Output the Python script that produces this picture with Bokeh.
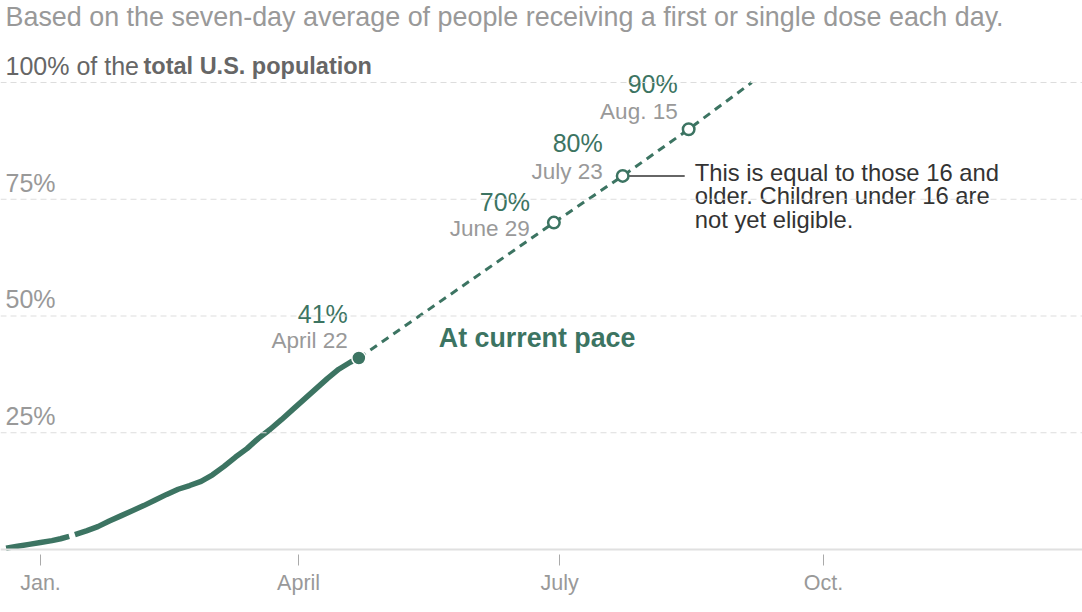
from datetime import timedelta
import numpy as np
import pandas as pd
from bokeh.plotting import figure
from bokeh.models import Range1d, FixedTicker, CustomJSTickFormatter, Span, Grid
from bokeh.core.properties import value
from bokeh.embed import file_html
from bokeh.resources import INLINE

# ---------------- data ----------------
dates = ["2020-12-20", "2020-12-24", "2020-12-28", "2021-01-01", "2021-01-05",
         "2021-01-08", "2021-01-11", "2021-01-12", "2021-01-13", "2021-01-17",
         "2021-01-21", "2021-01-25", "2021-01-29", "2021-02-02", "2021-02-06",
         "2021-02-10", "2021-02-14", "2021-02-18", "2021-02-22", "2021-02-26",
         "2021-03-02", "2021-03-06", "2021-03-10", "2021-03-14", "2021-03-18",
         "2021-03-22", "2021-03-26", "2021-03-30", "2021-04-03", "2021-04-07",
         "2021-04-11", "2021-04-15", "2021-04-19", "2021-04-22"]
share = [0.3, 0.7, 1.1, 1.5, 1.9,
         2.3, 2.8, np.nan, 3.2, 4.0,
         4.9, 6.1, 7.2, 8.3, 9.4,
         10.6, 11.8, 12.9, 13.7, 14.6,
         16.0, 17.8, 19.8, 21.6, 23.8,
         25.7, 27.8, 30.0, 32.2, 34.4,
         36.6, 38.6, 40.1, 41.0]

proj_dates = ["2021-04-22", "2021-06-29", "2021-07-23", "2021-08-15", "2021-09-06"]
proj_share = [41, 70, 80, 90, 100]

milestone_dates = ["2021-06-29", "2021-07-23", "2021-08-15"]
milestone_share = [70, 80, 90]
current_date = "2021-04-22"
current_share = 41

label_dates = ["2021-04-22", "2021-06-29", "2021-07-23", "2021-08-15"]
label_share = [41, 70, 80, 90]
pct_labels = ["41%", "70%", "80%", "90%"]
date_labels = ["April 22", "June 29", "July 23", "Aug. 15"]

y_ticks = [25, 50, 75, 100]
y_tick_labels = ["25%", "50%", "75%", "100% of the"]
x_tick_dates = ["2021-01-01", "2021-04-01", "2021-07-01", "2021-10-01"]
x_tick_labels = ["Jan.", "April", "July", "Oct."]

subtitle = "Based on the seven-day average of people receiving a first or single dose each day."
y_title_bold = "total U.S. population"
pace_label = "At current pace"
note_lines = ["This is equal to those 16 and", "older. Children under 16 are", "not yet eligible."]

# ---------------- layout ----------------
W, H = 1082, 612
BOTTOM = 58
PX_DAY = 2.868
PX_PCT = 4.67
JAN1_PX = 40
ZERO_PX = 5
LEFT_PAD = 5
BASE_FIX = 0.35   # baseline correction, fraction of font size

GREEN = "#3c7462"
FONT = "Liberation Sans"

d = pd.to_datetime(dates)
pd_ = pd.to_datetime(proj_dates)
md = pd.to_datetime(milestone_dates)
cd = pd.to_datetime([current_date])
ld = pd.to_datetime(label_dates)
jan1 = pd.Timestamp("2021-01-01")

frame_h = H - BOTTOM
x_range = Range1d(start=jan1 - timedelta(days=JAN1_PX / PX_DAY),
                  end=jan1 + timedelta(days=(W - JAN1_PX) / PX_DAY))
y_range = Range1d(start=-ZERO_PX / PX_PCT, end=(frame_h - ZERO_PX) / PX_PCT)

p = figure(width=W, height=H, x_axis_type="datetime", x_range=x_range, y_range=y_range,
           output_backend="svg", toolbar_location=None, y_axis_location=None,
           min_border_left=0, min_border_right=0, min_border_top=0, min_border_bottom=BOTTOM)
p.outline_line_color = None
for r in p.center:
    if isinstance(r, Grid):
        r.visible = False
p.background_fill_color = "white"
p.border_fill_color = "white"


def label(x, y, text, fs, color, align="left", bold=False, xo=0, yo=0):
    p.text(x=x, y=y, text=text, text_font=value(FONT), text_font_size=f"{fs}px",
           text_font_style="bold" if bold else "normal", text_color=color,
           text_align=align, text_baseline="alphabetic",
           x_offset=xo, y_offset=yo - BASE_FIX * fs)


# gridlines and baseline
for t in y_ticks:
    p.add_layout(Span(location=t, dimension="width", line_color="#dddddd",
                      line_width=1, line_dash="6 4"))
p.add_layout(Span(location=0, dimension="width", line_color="#e0e0e0", line_width=2))

# x axis
tick_ms = [float(pd.Timestamp(t).value // 10**6) for t in x_tick_dates]
ax = p.xaxis[0]
ax.ticker = FixedTicker(ticks=tick_ms)
ax.formatter = CustomJSTickFormatter(args=dict(names=x_tick_labels, tick_pos=tick_ms), code="""
let best = 0;
for (let i = 0; i < tick_pos.length; i++) {
  if (Math.abs(tick_pos[i] - tick) < Math.abs(tick_pos[best] - tick)) best = i;
}
return names[best];
""")
ax.axis_line_color = None
ax.major_tick_line_color = "#aaaaaa"
ax.major_tick_in = 0
ax.major_tick_out = 11
ax.minor_tick_in = 0
ax.minor_tick_out = 0
ax.major_label_standoff = 5
ax.major_label_text_font = FONT
ax.major_label_text_font_size = "21.5px"
ax.major_label_text_color = "#999999"

x0 = x_range.start

# y tick labels
label([x0] * 3, y_ticks[:3], y_tick_labels[:3], 25, "#999999", xo=LEFT_PAD, yo=-8)
label([x0], [y_ticks[3]], [y_tick_labels[3]], 25, "#666666", xo=LEFT_PAD, yo=-8)
label([x0], [y_ticks[3]], [y_title_bold], 23.5, "#666666", bold=True, xo=143, yo=-8)

# subtitle
label([x0], [y_ticks[3]], [subtitle], 26.9, "#999999", xo=LEFT_PAD, yo=-56)

# lines
p.line(x=d, y=share, line_color=GREEN, line_width=5.5, line_join="round")
p.line(x=pd_, y=proj_share, line_color=GREEN, line_width=3, line_dash="8 6")

# leader line for 80%
p.segment(x0=[md[1]], y0=[milestone_share[1]],
          x1=[md[1] + timedelta(days=62 / PX_DAY)], y1=[milestone_share[1]],
          line_color="#333333", line_width=1.5)

# points
p.scatter(x=md, y=milestone_share, size=11.5, fill_color="white", line_color=GREEN, line_width=2.5)
p.scatter(x=cd, y=[current_share], size=14, fill_color=GREEN, line_color="white", line_width=1.5)

# milestone labels
offs = [(-11, -34.8, -9.5), (-24, -12, 14), (-20, -23.7, 3), (-11, -36.4, -9.7)]
for i in range(len(ld)):
    xo, yp, yd = offs[i]
    label([ld[i]], [label_share[i]], [pct_labels[i]], 25, GREEN, align="right", xo=xo, yo=yp)
    label([ld[i]], [label_share[i]], [date_labels[i]], 22.5, "#999999", align="right", xo=xo, yo=yd)

# at current pace
label(cd, [current_share], [pace_label], 26.8, GREEN, bold=True, xo=80, yo=-10.8)

# note
for j, line in enumerate(note_lines):
    label([md[1]], [milestone_share[1]], [line], 23.8, "#333333", xo=72, yo=4.6 + 23.8 * j)

open("out.html", "w").write(file_html(p, INLINE))
